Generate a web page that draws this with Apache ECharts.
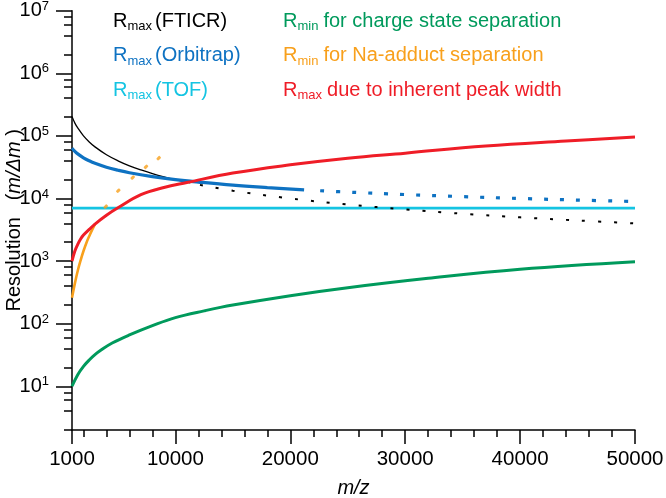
<!DOCTYPE html>
<html><head><meta charset="utf-8">
<script src="https://cdn.jsdelivr.net/npm/echarts@6/dist/echarts.min.js"></script>
<style>html,body{margin:0;padding:0;background:#fff}#c{width:666px;height:498px}</style>
</head><body><div id="c"></div>
<script>
const FONT = 'Liberation Sans, Arial, Helvetica, sans-serif';

// tick positions / labels
const xMajorTicks = [1000, 10000, 20000, 30000, 40000, 50000];
const xMinorTicks = [2000, 4000, 6000, 8000, 12000, 14000, 16000, 18000, 22000, 24000, 26000, 28000,
  32000, 34000, 36000, 38000, 42000, 44000, 46000, 48000];
const yMajorTicks = [10, 100, 1000, 10000, 100000, 1000000, 10000000];
const yMinorTicks = [2, 4, 6, 8, 20, 40, 60, 80, 200, 400, 600, 800, 2000, 4000, 6000, 8000,
  20000, 40000, 60000, 80000, 200000, 400000, 600000, 800000, 2000000, 4000000, 6000000, 8000000];

// R_max (FTICR) – solid part and dotted extrapolation
const fticrMz = [1000, 1250, 1500, 2000, 2500, 3000, 4000, 5000, 6000, 7000, 8000, 9000, 10000, 11300];
const fticrR = [205000, 160000, 134000, 100000, 80000, 66700, 50000, 40000, 33300, 28600, 25000, 22200, 20000, 17700];
const fticrDotMz = [12140, 15000, 20000, 25000, 30000, 35000, 40000, 45000, 50000];
const fticrDotR = [16500, 13300, 10000, 8000, 6700, 5700, 5000, 4450, 4000];

// R_max (Orbitrap)
const orbiMz = [1000, 1250, 1500, 2000, 2500, 3000, 4000, 5000, 6000, 8000, 10000, 12000, 15000, 18000, 21200];
const orbiR = [63500, 56500, 51600, 44700, 40000, 36500, 31600, 28300, 25800, 22400, 20000, 18300, 16300, 14900, 13700];
const orbiDotMz = [22600, 25000, 30000, 35000, 40000, 45000, 50000];
const orbiDotR = [13300, 12650, 11550, 10700, 10000, 9430, 8940];

// R_max (TOF)
const tofMz = [1000, 50000];
const tofR = [7000, 7000];

// R_min for charge state separation
const chargeMz = [1000, 1500, 2000, 2500, 3000, 3500, 4500, 6000, 8000, 10000, 12500, 15000, 20000, 25000, 32000, 40000, 50000];
const chargeR = [10, 15.3, 20.8, 26.3, 32, 37.5, 49, 66, 93, 125, 160, 198, 280, 375, 530, 740, 975];

// R_min for Na-adduct separation
const naMz = [1000, 1250, 1500, 1750, 2000, 2250, 2500, 2750, 3000];
const naR = [260, 440, 700, 1030, 1450, 1950, 2500, 3150, 3900];
const naDotMz = [3933, 5030, 6283, 7440, 8545];
const naDotR = [7400, 13300, 21600, 32000, 44000];

// R_max due to inherent peak width
const peakMz = [1000, 1250, 1500, 1750, 2000, 2500, 3000, 4000, 5000, 7000, 9000, 11000, 15000, 20000, 25000, 30000, 37000, 44000, 50000];
const peakR = [1000, 1450, 1850, 2250, 2600, 3200, 3900, 5400, 7100, 11500, 15000, 18000, 25500, 34500, 44000, 53000, 69000, 83000, 96000];

// legend entries
const seriesNames = ['Rmax (FTICR)', 'Rmax (Orbitrap)', 'Rmax (TOF)', 'Rmin for charge state separation', 'Rmin for Na-adduct separation', 'Rmax due to inherent peak width'];
const legendSub = ['max', 'max', 'max', 'min', 'min', 'max'];
const legendRest = ['(FTICR)', '(Orbitrap)', '(TOF)', 'for charge state separation', 'for Na-adduct separation', 'due to inherent peak width'];
const colors = ['#000000', '#0e72c2', '#14c4e2', '#009a5c', '#f8a01c', '#ef1d27'];
const subGap = [3, 3, 3, 5, 5, 5];

const zip = (a, b) => a.map((v, i) => [v, b[i]]);

const rich = {};
colors.forEach((c, i) => {
  rich['r' + i] = { color: c, fontSize: 20, fontFamily: FONT, lineHeight: 24 };
  rich['s' + i] = { color: c, fontSize: 13, fontFamily: FONT, lineHeight: 14, verticalAlign: 'bottom', padding: [0, subGap[i], 0, 0] };
});

function lineSeries(name, data, color, width, type, z) {
  return {
    name, type: 'line', data, symbol: 'none', showSymbol: false, smooth: 0.4,
    lineStyle: { color, width, type: type || 'solid', cap: 'butt' }, itemStyle: { color },
    z: z || 2, animation: false, silent: true
  };
}

const legendFmt = n => { const i = seriesNames.indexOf(n); return `{r${i}|R}{s${i}|${legendSub[i]}}{r${i}|${legendRest[i]}}`; };

const chart = echarts.init(document.getElementById('c'), null, { renderer: 'canvas' });
const axisColor = '#000';
const option = {
  backgroundColor: '#fff',
  animation: false,
  grid: { left: 72, right: 31, top: 10.7, bottom: 68, containLabel: false, outerBoundsMode: 'none' },
  legend: [
    { data: seriesNames.slice(0, 3), orient: 'vertical', left: 103, top: 6, itemGap: 12.5, itemWidth: 0, itemHeight: 14, icon: 'none', selectedMode: false,
      formatter: legendFmt, textStyle: { rich } },
    { data: seriesNames.slice(3), orient: 'vertical', left: 273, top: 6, itemGap: 12.5, itemWidth: 0, itemHeight: 14, icon: 'none', selectedMode: false,
      formatter: legendFmt, textStyle: { rich } }
  ],
  xAxis: [
    { type: 'value', min: 1000, max: 50000, position: 'bottom',
      name: 'm/z', nameLocation: 'middle', nameGap: 48, nameMoveOverlap: false,
      nameTextStyle: { fontSize: 20, fontStyle: 'italic', fontFamily: FONT, color: '#000' },
      axisLine: { show: true, lineStyle: { color: axisColor, width: 1.5 } },
      axisTick: { show: true, customValues: xMajorTicks, length: 14, inside: false, lineStyle: { color: axisColor, width: 1.5 } },
      axisLabel: { customValues: xMajorTicks, margin: 19, fontSize: 20.5, fontFamily: FONT, color: '#000', formatter: v => String(v) },
      splitLine: { show: false } },
    { type: 'value', min: 1000, max: 50000, position: 'bottom',
      axisLine: { show: false },
      axisTick: { show: true, customValues: xMinorTicks, length: 7, lineStyle: { color: axisColor, width: 1.5 } },
      axisLabel: { show: false }, splitLine: { show: false } }
  ],
  yAxis: [
    { type: 'log', logBase: 10, min: 2, max: 10000000, position: 'left',
      name: '{t|Resolution   (}{i|m/Δm}{t| )}', nameLocation: 'middle', nameGap: 48, nameMoveOverlap: false,
      nameTextStyle: { rich: { t: { fontSize: 20, fontFamily: FONT, color: '#000' }, i: { fontSize: 20, fontStyle: 'italic', fontFamily: FONT, color: '#000' } } },
      axisLine: { show: true, lineStyle: { color: axisColor, width: 1.5 } },
      axisTick: { show: true, customValues: yMajorTicks, length: 16, lineStyle: { color: axisColor, width: 1.5 } },
      axisLabel: { customValues: yMajorTicks, margin: 23, color: '#000',
        formatter: v => '{b|10}{e|' + Math.round(Math.log10(v)) + '}',
        rich: { b: { fontSize: 20, fontFamily: FONT, color: '#000', lineHeight: 22 },
                e: { fontSize: 13, fontFamily: FONT, color: '#000', lineHeight: 12, verticalAlign: 'top' } } },
      splitLine: { show: false } },
    { type: 'log', logBase: 10, min: 2, max: 10000000, position: 'left',
      axisLine: { show: false },
      axisTick: { show: true, customValues: yMinorTicks, length: 8, lineStyle: { color: axisColor, width: 1.5 } },
      axisLabel: { show: false }, splitLine: { show: false } }
  ],
  series: [
    lineSeries(seriesNames[2], zip(tofMz, tofR), colors[2], 2.6, 'solid', 2),
    lineSeries(seriesNames[3], zip(chargeMz, chargeR), colors[3], 3, 'solid', 3),
    lineSeries(seriesNames[4], zip(naMz, naR), colors[4], 2.6, 'solid', 3),
    { name: 'na-ext', type: 'scatter', data: zip(naDotMz, naDotR), symbol: 'roundRect', symbolSize: [4.5, 3], symbolRotate: 45,
      itemStyle: { color: colors[4] }, z: 3, animation: false, silent: true },
    lineSeries(seriesNames[0], zip(fticrMz, fticrR), colors[0], 1.3, 'solid', 4),
    lineSeries('fticr-ext', zip(fticrDotMz, fticrDotR), colors[0], 2, [3, 13], 4),
    lineSeries(seriesNames[1], zip(orbiMz, orbiR), colors[1], 3.2, 'solid', 5),
    lineSeries('orbi-ext', zip(orbiDotMz, orbiDotR), colors[1], 3.2, [4, 12], 5),
    lineSeries(seriesNames[5], zip(peakMz, peakR), colors[5], 3, 'solid', 6)
  ]
};
chart.setOption(option);
</script></body></html>
